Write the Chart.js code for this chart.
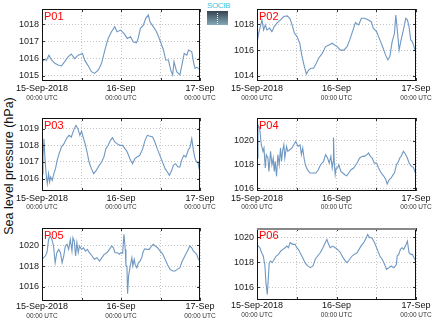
<!DOCTYPE html>
<html>
<head>
<meta charset="utf-8">
<script src="https://cdn.jsdelivr.net/npm/chart.js@4"></script>
<style>
  html, body { margin: 0; padding: 0; background: #fff; }
  body { width: 434px; height: 327px; position: relative; overflow: hidden; font-family: "Liberation Sans", Arial, sans-serif; }
  canvas { position: absolute; }
  #ytitle {
    position: absolute; left: 9px; top: 166px; white-space: nowrap;
    transform: translate(-50%, -50%) rotate(-90deg);
    font-size: 12.5px; color: #111;
  }
  #logo { position: absolute; left: 207px; top: 2px; width: 21px; }
  #logo .txt { font-size: 8px; line-height: 8px; color: #3cc6dc; text-align: center; letter-spacing: -0.4px; }
  #logo .box { height: 14px; margin-top: 1px; background: linear-gradient(#34434f, #86a9b8); position: relative; }
  #logo .box::after { content: ""; position: absolute; left: 10px; top: 2px; height: 11px; border-left: 1px dotted #e8f4f8; }
</style>
</head>
<body>
<div id="ytitle">Sea level pressure (hPa)</div>
<div id="logo"><div class="txt">SOCIB</div><div class="box"></div></div>
<canvas id="c1" width="217" height="108" style="left:0;top:0"></canvas>
<canvas id="c2" width="217" height="108" style="left:217px;top:0"></canvas>
<canvas id="c3" width="217" height="108" style="left:0;top:108px"></canvas>
<canvas id="c4" width="217" height="108" style="left:217px;top:108px"></canvas>
<canvas id="c5" width="217" height="111" style="left:0;top:216px"></canvas>
<canvas id="c6" width="217" height="111" style="left:217px;top:216px"></canvas>
<script>
// hours since 15-Sep-2018 00:00 UTC
const xGridHours = [0, 12, 24, 36, 48];
const xLabelHours = [0, 24, 48];
const xDateLabels = ["15-Sep-2018", "16-Sep", "17-Sep"];
const xTimeLabels = ["00:00 UTC", "00:00 UTC", "00:00 UTC"];

const p01Hours = [0,0.8,1.3,2.1,2.8,3.9,4.9,5.9,6.9,7.9,8.9,9.9,11,12.3,13,14,15,16,17.1,18.1,19.1,20.1,21.1,22.1,22.8,23.9,24.9,25.9,26.9,27.7,28.7,29.2,29.9,30.8,31.5,32.3,32.8,33.8,34.8,35.8,36.9,37.6,38.4,39.1,39.7,40.1,40.9,41.9,42.7,43.2,44,44.5,45.5,46,46.5,47,48];
const p01Pressure = [1015.83,1015.96,1015.9,1016.2,1015.96,1015.73,1015.63,1015.58,1015.83,1016.1,1016.27,1016.0,1016.2,1016.3,1015.9,1015.6,1015.25,1015.15,1015.35,1015.73,1016.5,1017.17,1017.56,1017.85,1017.56,1017.65,1017.46,1017.17,1017.27,1016.98,1016.92,1017.17,1017.75,1017.94,1018.33,1018.52,1018.13,1017.85,1017.56,1017.08,1016.5,1015.92,1015.92,1015.35,1015.06,1015.83,1015.25,1015.06,1015.83,1016.3,1016.2,1016.5,1016.4,1015.83,1015.44,1015.5,1015.38];
const p01Ticks = [1015, 1016, 1017, 1018];

const p02Hours = [0,0.5,1,1.5,2,2.5,3,3.8,4.5,5.2,6,7.1,8.1,9.1,9.9,10.6,11.3,12.1,12.9,13.6,14.3,14.9,15.6,16.3,17.1,17.9,18.6,19.7,20.7,21.7,22.7,23.4,24.2,25.2,26.2,27.2,28,29,29.7,30.7,31.5,32.5,33.5,34.5,35.1,36.1,37.1,38.1,38.8,39.5,40.1,40.8,41.5,41.9,42.3,42.9,43.5,44.2,44.9,45.4,45.9,46.4,46.9,47.4,48];
const p02Pressure = [1016.53,1017.3,1017.82,1018.34,1017.56,1017.95,1017.56,1017.7,1017.43,1017.82,1018.08,1018.34,1018.6,1018.65,1018.46,1017.95,1017.3,1017.05,1016.53,1015.5,1014.72,1014.15,1014.46,1014.6,1014.6,1014.98,1015.37,1015.75,1016.27,1016.4,1016.53,1016.4,1016.27,1016.0,1016.0,1016.27,1016.79,1017.56,1018.13,1017.95,1018.46,1018.46,1018.34,1018.2,1017.7,1017.43,1016.79,1016.14,1015.63,1015.24,1015.5,1016.66,1017.3,1018.72,1017.7,1016.0,1016.79,1017.56,1018.46,1018.34,1017.82,1016.79,1016.66,1016.27,1015.75];
const p02Ticks = [1014, 1016, 1018];

const p03Hours = [0,0.3,0.6,0.9,1.3,1.6,2,2.3,2.6,3.1,3.6,4.1,4.6,5.2,5.9,6.7,7.4,8.2,8.9,9.6,10.3,10.9,11.5,12,12.5,13.1,13.7,14.3,15,15.7,16.5,17.4,18.1,18.8,19.4,20.1,20.8,21.4,22.1,22.8,23.6,24.5,25.2,25.9,26.7,27.5,28.2,28.9,29.7,30.6,31.3,32,32.8,33.6,34.3,35,35.8,36.6,37.4,38.1,38.7,39.4,39.9,40.6,41.3,41.9,42.4,43.1,43.7,44.4,45,45.5,46,46.5,47,47.4,47.7,48];
const p03Pressure = [1016.3,1017.3,1018.4,1017.2,1016.2,1015.7,1016.3,1015.8,1016.1,1015.9,1016.3,1016.6,1017.1,1017.5,1017.9,1018.1,1018.4,1018.6,1018.5,1018.9,1019.2,1019.0,1018.6,1018.85,1018.5,1018.1,1017.6,1017.0,1016.6,1016.3,1016.5,1016.8,1017.0,1017.3,1017.8,1018.0,1018.3,1018.45,1018.2,1018.1,1018.0,1018.0,1017.8,1017.6,1017.2,1016.9,1017.2,1017.3,1017.4,1017.8,1018.3,1018.6,1018.55,1018.5,1018.2,1017.8,1017.4,1017.0,1016.6,1016.4,1016.2,1016.5,1016.8,1016.9,1016.7,1016.7,1017.1,1017.4,1017.3,1017.7,1017.9,1018.4,1017.7,1017.2,1017.0,1017.0,1016.6,1016.5];
const p03Ticks = [1016, 1017, 1018, 1019];

const p04Hours = [0,0.3,0.8,1.3,1.8,2.1,2.5,2.8,3.3,3.6,4.1,4.5,4.9,5.2,5.5,5.9,6.3,6.7,7.1,7.4,7.7,8.1,8.4,8.9,9.3,9.9,10.5,11.1,11.7,12.4,13,13.4,13.8,14.2,14.6,15.2,16,17,17.8,18.5,19.2,20.1,20.7,21.3,21.8,22.3,22.7,23,23.1,23.3,23.6,23.9,24.3,24.7,25.3,25.9,26.5,27.1,27.7,28.4,29.2,30.2,31,31.8,32.4,33.2,33.7,34.2,34.8,35.4,36.1,36.7,37.5,38.3,38.9,39.3,39.9,40.5,41.1,41.5,42.1,42.7,43.1,43.5,44.2,44.6,44.9,45.4,45.9,46.6,47.2,48];
const p04Pressure = [1018.54,1021.35,1021.07,1019.66,1019.1,1019.38,1017.69,1018.82,1018.54,1017.41,1019.1,1017.97,1018.54,1017.41,1018.25,1016.99,1018.82,1017.97,1019.38,1018.25,1019.1,1019.66,1018.54,1019.52,1019.1,1019.24,1019.38,1019.66,1019.94,1019.52,1019.66,1018.82,1019.38,1018.54,1017.97,1017.55,1017.27,1017.27,1017.27,1017.55,1017.97,1018.25,1018.82,1018.54,1018.11,1018.68,1017.69,1018.25,1020.28,1018.25,1017.13,1017.69,1017.69,1017.97,1017.41,1017.27,1017.13,1017.04,1017.27,1017.55,1017.69,1018.11,1018.54,1018.68,1018.68,1018.82,1018.96,1018.68,1018.54,1018.11,1018.11,1017.69,1017.27,1016.99,1016.7,1016.34,1016.7,1016.85,1017.13,1017.27,1017.97,1018.25,1018.54,1018.68,1019.1,1018.96,1018.82,1018.54,1018.11,1017.83,1017.75,1017.13];
const p04Ticks = [1016, 1018, 1020];

const p05Hours = [0,0.5,1,1.5,2,2.5,3,3.5,4,4.5,5.1,5.6,6.1,6.6,7.1,7.6,8.1,8.6,9.1,9.4,9.8,10.2,10.6,11,11.4,12,12.6,13.2,13.8,14.4,15.2,15.9,16.7,17.5,18.2,18.9,19.7,20.5,21.2,21.7,22.2,22.9,23.5,24,24.5,24.9,25.3,25.5,25.8,26,26.3,26.8,27.3,27.6,28,28.3,28.8,29.3,29.8,30.3,30.8,31.3,31.8,32.6,33.3,33.8,34.4,35.1,35.9,36.7,37.4,38.1,38.9,39.7,40.4,41.1,41.9,42.4,42.9,43.4,43.9,44.4,44.9,45.5,46,46.5,47,47.5,48];
const p05Pressure = [1018.65,1018.81,1018.97,1019.29,1020.58,1020.9,1020.58,1019.94,1018.32,1019.29,1019.61,1019.29,1018.32,1018.97,1019.94,1020.1,1019.61,1020.58,1019.45,1020.74,1020.42,1018.97,1020.26,1019.29,1019.94,1019.61,1019.77,1019.45,1019.61,1019.29,1018.97,1018.65,1018.81,1018.48,1018.81,1019.13,1019.29,1019.61,1019.94,1019.77,1019.29,1019.29,1019.13,1019.29,1019.23,1021.06,1019.61,1018.0,1018.0,1015.32,1017.03,1018.0,1018.81,1018.0,1018.65,1018.16,1017.84,1018.32,1018.48,1018.81,1019.45,1019.68,1019.61,1019.61,1019.94,1020.1,1019.94,1019.77,1019.45,1019.13,1018.65,1018.16,1017.68,1017.52,1017.52,1017.68,1017.84,1018.32,1018.65,1018.97,1019.29,1019.61,1019.94,1019.77,1019.45,1019.29,1019.13,1018.65,1018.48];
const p05Ticks = [1016, 1018, 1020];

const p06Hours = [0,0.4,0.9,1.4,1.9,2.4,2.7,3.1,3.4,3.7,4.1,4.6,5.2,5.8,6.5,7.2,7.8,8.5,9,9.5,10,10.8,11.5,12,12.5,13,13.8,14.5,15.3,16.1,16.9,17.6,18.3,19.1,19.9,20.6,21.1,21.6,22.1,22.9,23.6,24.3,25.2,26,26.7,27.2,28,28.7,29.4,30.2,30.8,31.4,32.2,33,33.4,34,34.7,35.5,36.3,37.1,37.8,38.5,39.1,39.8,40.5,41.3,41.8,42.1,42.3,42.8,43.3,43.8,44.3,44.8,45.4,45.9,46.4,46.9,47.4,48];
const p06Pressure = [1019.15,1019.28,1019.15,1018.75,1018.49,1017.7,1016.37,1015.44,1016.64,1017.96,1018.09,1017.96,1018.23,1018.49,1018.62,1018.89,1019.02,1019.15,1019.28,1019.15,1019.55,1019.42,1019.42,1019.15,1019.02,1018.75,1018.36,1017.96,1017.7,1017.56,1017.7,1018.23,1018.49,1018.75,1019.15,1019.55,1019.81,1019.42,1019.15,1019.28,1019.15,1019.02,1018.75,1018.36,1018.09,1017.96,1018.23,1018.49,1018.62,1018.75,1019.02,1019.28,1019.55,1019.95,1020.21,1019.95,1019.95,1019.55,1019.02,1018.49,1018.23,1017.83,1017.43,1017.56,1017.7,1017.56,1017.7,1017.83,1018.49,1018.62,1019.02,1019.15,1019.02,1019.28,1019.68,1018.75,1018.62,1018.62,1018.36,1018.09];
const p06Ticks = [1016, 1018, 1020];

Chart.defaults.font.family = '"Liberation Sans", Arial, sans-serif';
Chart.defaults.animation = false;

const FONT = '"Liberation Sans", Arial, sans-serif';

// box, inward ticks, panel name and two-line date labels
const panelDecor = {
    id: "panelDecor",
    afterDraw(chart, args, opts) {
        const ctx = chart.ctx;
        const a = chart.chartArea;
        const x = chart.scales.x, y = chart.scales.y;
        ctx.save();
        ctx.strokeStyle = "#333";
        ctx.lineWidth = 1;
        ctx.beginPath();
        xGridHours.forEach(h => {
            const px = Math.round(x.getPixelForValue(h)) + 0.5;
            ctx.moveTo(px, a.top); ctx.lineTo(px, a.top + 3);
            ctx.moveTo(px, a.bottom); ctx.lineTo(px, a.bottom - 3);
        });
        opts.ticks.forEach(v => {
            const py = Math.round(y.getPixelForValue(v)) + 0.5;
            ctx.moveTo(a.left, py); ctx.lineTo(a.left + 3, py);
            ctx.moveTo(a.right, py); ctx.lineTo(a.right - 3, py);
        });
        ctx.stroke();

        ctx.strokeStyle = "#111";
        ctx.strokeRect(a.left + 0.5, a.top + 0.5, a.right - a.left - 1, a.bottom - a.top - 1);
        if (opts.topColor) {
            ctx.strokeStyle = opts.topColor;
            ctx.lineWidth = 2;
            ctx.beginPath();
            ctx.moveTo(a.left, a.top + 1); ctx.lineTo(a.right, a.top + 1);
            ctx.stroke();
        }

        ctx.fillStyle = "#f00";
        ctx.font = "11px " + FONT;
        ctx.textAlign = "left";
        ctx.textBaseline = "alphabetic";
        ctx.fillText(opts.name, a.left + 2, a.top + 10.5);

        ctx.textAlign = "center";
        ctx.textBaseline = "middle";
        xLabelHours.forEach((h, i) => {
            const px = x.getPixelForValue(h);
            ctx.fillStyle = "#111";
            ctx.font = "9px " + FONT;
            ctx.fillText(xDateLabels[i], px, a.bottom + opts.dateDy);
            ctx.fillStyle = "#333";
            ctx.font = "6.5px " + FONT;
            ctx.fillText(xTimeLabels[i], px, a.bottom + opts.timeDy);
        });
        ctx.restore();
    }
};

function makePanel(id, name, hours, pressure, ticks, yMin, yMax, box, extra) {
    const canvas = document.getElementById(id);
    const W = canvas.width, H = canvas.height;
    const points = hours.map((h, i) => ({ x: h, y: pressure[i] }));
    return new Chart(canvas.getContext("2d"), {
        type: "line",
        data: {
            datasets: [{
                data: points,
                borderColor: "#6f98c2",
                borderWidth: 1.1,
                pointRadius: 0,
                tension: 0,
                fill: false
            }]
        },
        options: {
            responsive: false,
            layout: { padding: { top: box.top, right: W - box.right, left: 0, bottom: 0 } },
            plugins: {
                legend: { display: false },
                tooltip: { enabled: false },
                panelDecor: Object.assign({ name: name, ticks: ticks }, extra)
            },
            scales: {
                x: {
                    type: "linear",
                    min: 0, max: 48,
                    afterBuildTicks: s => { s.ticks = xGridHours.map(v => ({ value: v })); },
                    afterFit: s => { s.height = H - box.bottom; },
                    ticks: { display: false },
                    grid: { color: "#c4c4c4", drawTicks: false, lineWidth: 1 },
                    border: { display: false, dash: [1, 2] }
                },
                y: {
                    min: yMin, max: yMax,
                    afterBuildTicks: s => { s.ticks = ticks.map(v => ({ value: v })); },
                    afterFit: s => { s.width = box.left; },
                    ticks: { color: "#222", font: { size: 9 }, padding: 3, callback: v => String(v) },
                    grid: { color: "#c4c4c4", drawTicks: false, lineWidth: 1 },
                    border: { display: false, dash: [1, 2] }
                }
            }
        },
        plugins: [panelDecor]
    });
}

const leftBox = (t, b) => ({ left: 42, right: 200, top: t, bottom: b });
const rightBox = (t, b) => ({ left: 40, right: 199, top: t, bottom: b });

makePanel("c1", "P01", p01Hours, p01Pressure, p01Ticks, 1014.71, 1018.87, leftBox(9, 81), { dateDy: 8, timeDy: 17.5 });
makePanel("c2", "P02", p02Hours, p02Pressure, p02Ticks, 1013.61, 1019.18, rightBox(9, 81), { dateDy: 8, timeDy: 17.5 });
makePanel("c3", "P03", p03Hours, p03Pressure, p03Ticks, 1015.26, 1019.64, leftBox(10, 83), { dateDy: 7.5, timeDy: 16.5 });
makePanel("c4", "P04", p04Hours, p04Pressure, p04Ticks, 1015.75, 1021.92, rightBox(10, 83), { dateDy: 7.5, timeDy: 16.5 });
makePanel("c5", "P05", p05Hours, p05Pressure, p05Ticks, 1014.62, 1021.68, leftBox(12, 85), { dateDy: 5.5, timeDy: 15 });
makePanel("c6", "P06", p06Hours, p06Pressure, p06Ticks, 1014.99, 1020.72, rightBox(12, 84), { dateDy: 6, timeDy: 15.5, topColor: "#888" });
</script>
</body>
</html>
